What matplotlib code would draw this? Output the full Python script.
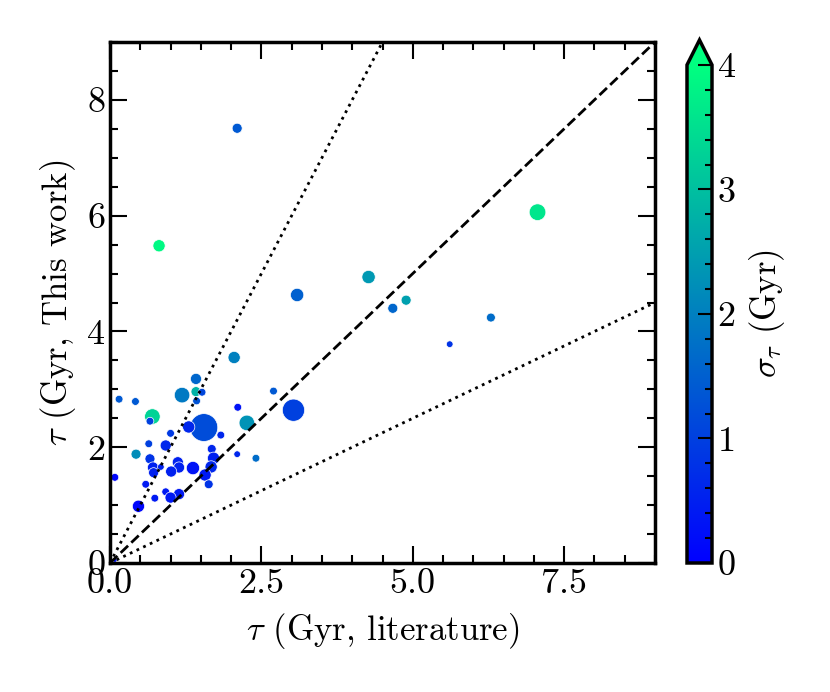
import numpy as np
import matplotlib
matplotlib.use('Agg')
import matplotlib.pyplot as plt
from matplotlib.ticker import MultipleLocator

plt.rcParams['font.family'] = 'serif'
plt.rcParams['font.serif'] = ['cmr10']
plt.rcParams['mathtext.fontset'] = 'cm'
plt.rcParams['axes.formatter.use_mathtext'] = True

# ages: literature vs this work, uncertainty, and relative weight (marker diameter)
tau_lit = [2.10, 0.81, 7.06, 4.27, 3.09, 4.89, 4.67, 6.29, 5.61, 2.05,
           3.03, 1.55, 2.26, 1.19, 1.42, 1.42, 1.52, 1.43, 0.70, 0.66,
           0.15, 0.42, 2.70, 2.11, 1.83, 1.00, 0.64, 0.92, 0.43, 1.68,
           2.10, 2.41, 1.71, 0.66, 1.12, 1.37, 1.14, 0.71, 0.84, 1.01,
           0.72, 1.67, 1.57, 0.08, 0.59, 1.63, 0.92, 1.14, 1.00, 0.74,
           0.47, 0.08, 1.30]
tau_this = [7.51, 5.48, 6.06, 4.94, 4.63, 4.54, 4.40, 4.24, 3.78, 3.55,
            2.64, 2.34, 2.42, 2.90, 3.18, 2.96, 2.95, 2.80, 2.53, 2.45,
            2.83, 2.79, 2.97, 2.69, 2.21, 2.24, 2.06, 2.03, 1.88, 1.97,
            1.88, 1.81, 1.81, 1.80, 1.74, 1.64, 1.65, 1.65, 1.66, 1.58,
            1.56, 1.66, 1.52, 1.48, 1.36, 1.36, 1.23, 1.19, 1.13, 1.12,
            0.98, 0.05, 2.35]
sigma_tau = [1.4, 3.9, 3.6, 2.4, 1.5, 2.5, 1.6, 1.7, 0.8, 2.0,
             1.0, 1.2, 2.3, 1.9, 1.6, 2.8, 1.1, 1.3, 3.3, 1.0,
             1.4, 1.4, 1.4, 0.3, 0.6, 0.9, 1.0, 0.6, 2.2, 0.6,
             0.6, 1.7, 0.5, 0.8, 0.5, 0.3, 0.5, 0.5, 0.5, 0.5,
             0.5, 0.6, 0.4, 0.1, 0.4, 0.8, 0.4, 0.4, 0.4, 0.4,
             0.1, 0.3, 0.6]
weight = [9, 11, 15, 12, 12, 9, 9, 8, 6, 11,
          20, 25, 14, 14, 10, 9, 7, 7, 14, 7,
          7, 7, 7, 7, 7, 7, 7, 10, 9, 8,
          6, 7, 11, 9, 10, 12, 10, 10, 6, 10,
          9, 11, 11, 7, 7, 8, 7, 10, 10, 7,
          11, 4, 11]

fig = plt.figure(figsize=(8.3, 6.92), dpi=100)
ax = fig.add_axes([110 / 830, 129 / 692, 545 / 830, 521 / 692])

s = (0.8 * np.array(weight)) ** 2
sc = ax.scatter(tau_lit, tau_this, c=sigma_tau, s=s, cmap='winter', vmin=0, vmax=4,
                edgecolors='white', linewidths=0.5, zorder=2)

xx = np.linspace(0, 9, 10)
ax.plot(xx, xx, 'k--', lw=2, zorder=3)
ax.plot(xx, 2 * xx, 'k:', lw=2, zorder=3)
ax.plot(xx, 0.5 * xx, 'k:', lw=2, zorder=3)

ax.set_xlim(0, 9)
ax.set_ylim(0, 9)
ax.xaxis.set_major_locator(MultipleLocator(2.5))
ax.xaxis.set_minor_locator(MultipleLocator(0.5))
ax.yaxis.set_major_locator(MultipleLocator(2))
ax.yaxis.set_minor_locator(MultipleLocator(0.5))
ax.xaxis.set_major_formatter(plt.FormatStrFormatter('%.1f'))
ax.tick_params(which='both', direction='in', top=True, right=True, width=1.5, labelsize=26)
ax.tick_params(which='major', length=12)
ax.tick_params(which='minor', length=6)
for sp in ax.spines.values():
    sp.set_linewidth(2.5)

ax.set_xlabel(r'$\tau$ (Gyr, literature)', fontsize=25, labelpad=8)
ax.set_ylabel(r'$\tau$ (Gyr, This work)', fontsize=25, labelpad=6)

cax = fig.add_axes([687 / 830, 129 / 692, 25 / 830, 523 / 692])
cb = fig.colorbar(sc, cax=cax, extend='max')
cb.set_ticks([0, 1, 2, 3, 4])
cb.ax.yaxis.set_minor_locator(MultipleLocator(0.2))
cb.ax.tick_params(which='both', direction='in', width=1.5, labelsize=26)
cb.ax.tick_params(which='major', length=10)
cb.ax.tick_params(which='minor', length=5)
cb.outline.set_linewidth(2.5)
cb.set_label(r'$\sigma_\tau$ (Gyr)', fontsize=25, labelpad=8)

fig.savefig('out.png', dpi=100)
